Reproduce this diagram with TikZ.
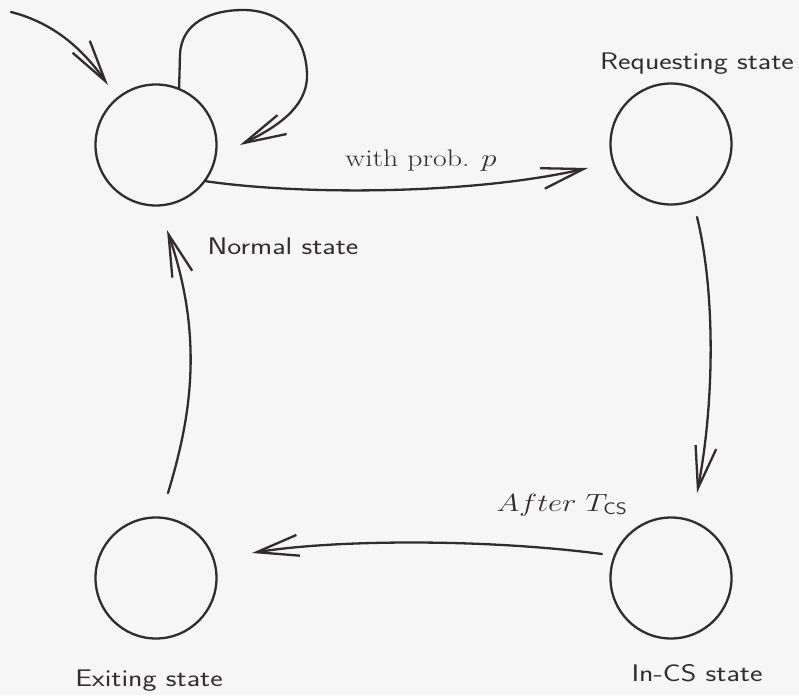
\documentclass[tikz,border=0pt]{standalone}
\usepackage{fontspec}
\usepackage{graphicx}
\usetikzlibrary{arrows.meta}
\definecolor{ink}{RGB}{50,44,46}
\definecolor{paper}{RGB}{247,246,247}
\newcommand{\wlab}[1]{\scalebox{1.24}[1]{#1}}
\begin{document}
\begin{tikzpicture}[x=1pt,y=-1pt,
  state/.style={circle, draw=ink, line width=2.3pt, minimum size=121pt, inner sep=0pt},
  lab/.style={inner sep=0pt, anchor=base, text=ink, font=\fontsize{24}{28}\selectfont},
  conn/.style={draw=ink, line width=2.3pt, line cap=round, line join=round,
    -{Straight Barb[length=42pt,width=21pt,line width=2.3pt]}}]
\fill[paper] (0,0) rectangle (799,695);
\useasboundingbox (0,0) rectangle (799,695);
% states
\node[state] (N) at (156,145) {};
\node[state] (R) at (671,144) {};
\node[state] (C) at (671,578) {};
\node[state] (E) at (156,578) {};
% labels
\node[lab] (lR) at (697,70) {\wlab{\sffamily Requesting state}};
\node[lab] (lN) at (283,254) {\wlab{\sffamily Normal state}};
\node[lab] (lC) at (697,681) {\wlab{\sffamily In-CS state}};
\node[lab] (lE) at (149,686) {\wlab{\sffamily Exiting state}};
\node[lab] (lp) at (421,167) {\wlab{with prob. $p$}};
\node[lab] (lT) at (562,511) {\wlab{$After\ T_{\mathsf{CS}}$}};
% free ends
\coordinate (init) at (11,12);
\coordinate (initTip) at (108,85);
\coordinate (loopTip) at (240,145);
\coordinate (nrTip) at (588,168);
\coordinate (rcStart) at (697,217);
\coordinate (rcTip) at (697,493);
\coordinate (ceStart) at (602,554);
\coordinate (ceTip) at (252,553);
\coordinate (enStart) at (168,493);
\coordinate (enTip) at (167,230);
% connectors
\draw[conn] (init) .. controls (50,22) and (80,45) .. (initTip);
\draw[conn] (N.68) -- (180,55) .. controls (181,22) and (212,10) .. (243,10)
   .. controls (285,10) and (307,40) .. (307,76)
   .. controls (307,108) and (275,128) .. (loopTip);
\draw[conn] (N.-36) .. controls (300,195) and (470,195) .. (nrTip);
\draw[conn] (rcStart) .. controls (715,290) and (715,400) .. (rcTip);
\draw[conn] (ceStart) .. controls (480,538) and (330,540) .. (ceTip);
\draw[conn] (enStart) .. controls (190,420) and (205,340) .. (enTip);
\end{tikzpicture}
\end{document}
